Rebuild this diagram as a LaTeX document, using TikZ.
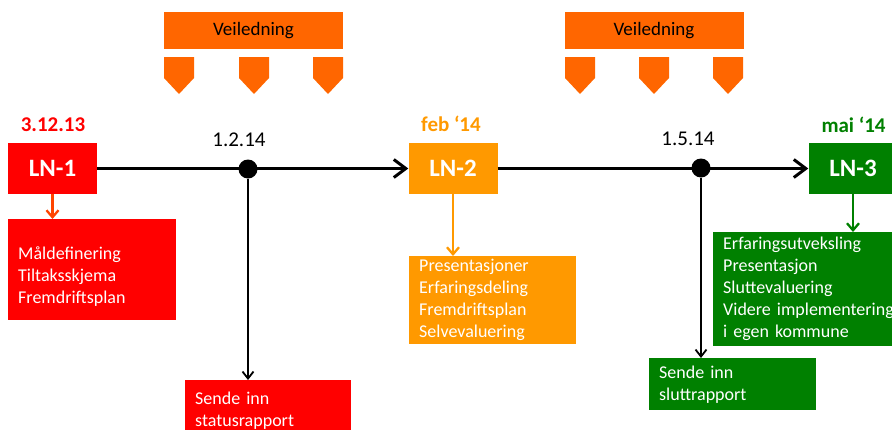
\documentclass[tikz,border=0pt]{standalone}
\usepackage{fontspec}
\setmainfont{Carlito}
\usetikzlibrary{arrows.meta}
\definecolor{lnRed}{HTML}{FF0000}
\definecolor{lnOrange}{HTML}{FF9900}
\definecolor{lnGreen}{HTML}{008000}
\definecolor{veilColor}{HTML}{FF6600}
\definecolor{redArrow}{HTML}{FF4400}
\newcommand{\bodyfont}{\fontsize{18}{22}\selectfont}

\begin{document}
\begin{tikzpicture}[x=1pt,y=-1pt,
    lnbox/.style={minimum width=89pt, minimum height=51pt, inner sep=0pt,
        text=white, font=\fontsize{25}{30}\selectfont\bfseries},
    infobox/.style={anchor=north west, inner xsep=10pt, inner ysep=0pt,
        text=white, align=left, font=\bodyfont},
    datelabel/.style={font=\fontsize{21}{25}\selectfont\bfseries},
    milestone/.style={font=\fontsize{21}{25}\selectfont},
    veilbox/.style={fill=veilColor, minimum width=179pt, minimum height=37pt,
        font=\fontsize{19}{23}\selectfont},
    dot/.style={circle, fill=black, minimum size=19pt, inner sep=0pt},
    mainline/.style={line width=3pt, -{Straight Barb[length=12pt,width=18pt]}},
    subarrow/.style={line width=1.8pt, -{Straight Barb[length=7pt,width=11pt]}},
    colarrow/.style={line width=2.3pt, -{Straight Barb[length=7pt,width=12pt]}}]

\useasboundingbox (0,0) rectangle (892,429);
\clip (0,0) rectangle (892,429);

% guidance
\node[veilbox] (veil1) at (253.5,30.5) {Veiledning};
\node[veilbox] (veil2) at (654,30.5) {Veiledning};
\foreach \px in {164,239,313,565,639,713}
{
    \fill[veilColor] (\px,57) -- ++(30,0) -- ++(0,21) -- ++(-15,16)
        -- ++(-15,-16) -- cycle;
}

% meetings
\node[lnbox, fill=lnRed] (ln1) at (52.5,168.5) {LN-1};
\node[lnbox, fill=lnOrange] (ln2) at (453,168.5) {LN-2};
\node[lnbox, fill=lnGreen] (ln3) at (853,168.5) {LN-3};
\node[datelabel, text=lnRed] (date1) at (53,124.5) {3.12.13};
\node[datelabel, text=lnOrange] (date2) at (451,124) {feb ‘14};
\node[datelabel, text=lnGreen, anchor=west] (date3) at (818,125) {mai ‘14};

% time line
\draw[mainline] (ln1) -- (ln2);
\draw[mainline] (ln2) -- (ln3);
\node[dot] (dot1) at (248,169) {};
\node[dot] (dot2) at (701,168) {};
\node[milestone] (ms1) at (239,140) {1.2.14};
\node[milestone] (ms2) at (688,139) {1.5.14};

% contents
\node[infobox, fill=lnRed, text width=148pt, minimum height=101pt]
    (info1) at (8,219) {\rule{0pt}{26pt}Måldefinering\\Tiltaksskjema\\Fremdriftsplan};
\node[infobox, fill=lnOrange, text width=147pt, minimum height=88pt]
    (info2) at (409,256) {Presentasjoner\\Erfaringsdeling\\Fremdriftsplan\\Selvevaluering};
\node[infobox, fill=lnGreen, text width=175pt, minimum height=114pt]
    (info3) at (713,232) {Erfaringsutveksling\\Presentasjon\\Sluttevaluering\\Videre implementering\\i egen kommune};
\draw[colarrow, draw=redArrow] (ln1) -- (ln1 |- info1.north);
\draw[colarrow, draw=lnOrange] (ln2) -- (ln2 |- info2.north);
\draw[colarrow, draw=lnGreen] (ln3) -- (ln3 |- info3.north);

% reports
\node[infobox, fill=lnRed, text width=146pt, minimum height=60pt]
    (report1) at (185,380) {Sende inn\\statusrapport};
\node[infobox, fill=lnGreen, text width=147pt, minimum height=52pt]
    (report2) at (649,358) {Sende inn\\sluttrapport};
\draw[subarrow] (dot1) -- (dot1 |- report1.north);
\draw[subarrow] (dot2) -- (dot2 |- report2.north);

\end{tikzpicture}
\end{document}
